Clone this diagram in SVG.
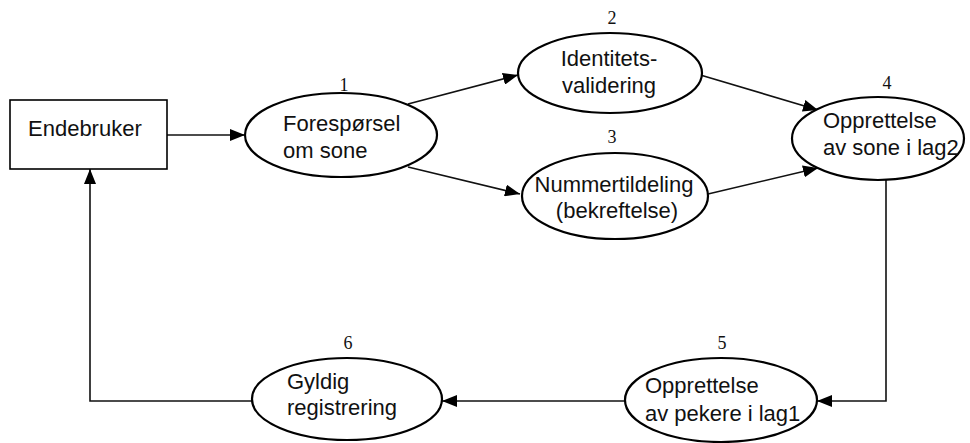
<svg xmlns="http://www.w3.org/2000/svg" width="970" height="443" viewBox="0 0 970 443">
<defs>
<marker id="arr" markerUnits="userSpaceOnUse" markerWidth="16" markerHeight="12" refX="15" refY="6" orient="auto">
<path d="M0,0 L15,6 L0,12 Z" fill="#000"/>
</marker>
<style>
.lbl{font-family:"Liberation Sans",Arial,sans-serif;font-size:22px;fill:#111}
.num{font-family:"Liberation Serif","Times New Roman",serif;font-size:18px;fill:#111;text-anchor:middle}
.shape{fill:#fff;stroke:#000;stroke-width:2.2}
.box{fill:#fff;stroke:#000;stroke-width:1.6}
.conn{fill:none;stroke:#111;stroke-width:1.6}
</style>
</defs>
<rect width="970" height="443" fill="#fff"/>
<g id="connectors">
<path class="conn" d="M167,135 L245,135" marker-end="url(#arr)"/>
<path class="conn" d="M408,104 L518,75" marker-end="url(#arr)"/>
<path class="conn" d="M408,167 L520,194" marker-end="url(#arr)"/>
<path class="conn" d="M697,74 L818,110" marker-end="url(#arr)"/>
<path class="conn" d="M708,194 L818,168" marker-end="url(#arr)"/>
<path class="conn" d="M886,180 L886,401 L817,401" marker-end="url(#arr)"/>
<path class="conn" d="M625,401 L442,401" marker-end="url(#arr)"/>
<path class="conn" d="M252,401 L90,401 L90,169" marker-end="url(#arr)"/>
</g>
<g id="endebruker">
<rect class="box" x="10" y="100" width="157" height="69"/>
<text class="lbl" x="28" y="136">Endebruker</text>
</g>
<g id="n1">
<ellipse class="shape" cx="341" cy="135" rx="96" ry="42"/>
<text class="num" x="344" y="91">1</text>
<text class="lbl" x="283" y="131">Forespørsel</text>
<text class="lbl" x="283" y="158">om sone</text>
</g>
<g id="n2">
<ellipse class="shape" cx="610" cy="73" rx="92" ry="40"/>
<text class="num" x="612" y="24">2</text>
<text class="lbl" x="609" y="66" text-anchor="middle">Identitets-</text>
<text class="lbl" x="609" y="93" text-anchor="middle">validering</text>
</g>
<g id="n3">
<ellipse class="shape" cx="615" cy="196" rx="93" ry="43"/>
<text class="num" x="612" y="143">3</text>
<text class="lbl" x="614" y="192" text-anchor="middle">Nummertildeling</text>
<text class="lbl" x="617" y="218" text-anchor="middle">(bekreftelse)</text>
</g>
<g id="n4">
<ellipse class="shape" cx="878" cy="138.5" rx="86" ry="41.5"/>
<text class="num" x="887" y="89">4</text>
<text class="lbl" x="823" y="128">Opprettelse</text>
<text class="lbl" x="823" y="155">av sone i lag2</text>
</g>
<g id="n5">
<ellipse class="shape" cx="721" cy="400" rx="96" ry="42"/>
<text class="num" x="722" y="349">5</text>
<text class="lbl" x="645" y="393">Opprettelse</text>
<text class="lbl" x="645" y="421">av pekere i lag1</text>
</g>
<g id="n6">
<ellipse class="shape" cx="347" cy="399" rx="95" ry="41"/>
<text class="num" x="348" y="349">6</text>
<text class="lbl" x="287" y="389">Gyldig</text>
<text class="lbl" x="287" y="415">registrering</text>
</g>
</svg>
